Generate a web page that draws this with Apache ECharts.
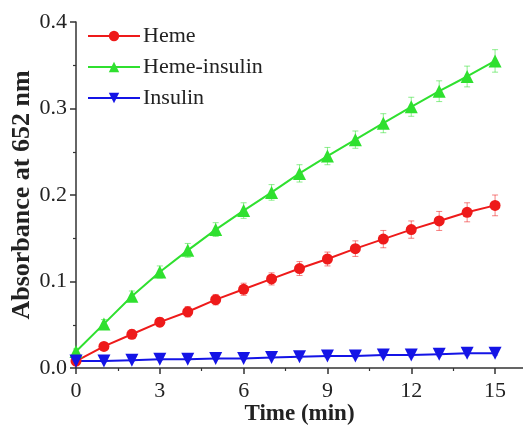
<!DOCTYPE html>
<html>
<head>
<meta charset="utf-8">
<script src="https://cdn.jsdelivr.net/npm/echarts@6/dist/echarts.min.js"></script>
<style>
  html, body { margin: 0; padding: 0; background: #fff; }
  #chart { width: 523px; height: 426px; }
</style>
</head>
<body>
<div id="chart"></div>
<script>
// Time points (min)
const times = [0, 1, 2, 3, 4, 5, 6, 7, 8, 9, 10, 11, 12, 13, 14, 15];

// Absorbance values
const heme = [0.008, 0.025, 0.039, 0.053, 0.065, 0.079, 0.091, 0.103, 0.115, 0.126, 0.138, 0.149, 0.160, 0.170, 0.180, 0.188];
const hemeInsulin = [0.019, 0.051, 0.083, 0.111, 0.136, 0.160, 0.182, 0.203, 0.225, 0.245, 0.264, 0.283, 0.302, 0.320, 0.337, 0.355];
const insulin = [0.008, 0.008, 0.009, 0.010, 0.010, 0.011, 0.011, 0.012, 0.013, 0.014, 0.014, 0.015, 0.015, 0.016, 0.017, 0.017];

// Error bar half-heights
const hemeErr = [0.002, 0.004, 0.005, 0.005, 0.006, 0.006, 0.007, 0.007, 0.008, 0.008, 0.009, 0.010, 0.010, 0.011, 0.011, 0.012];
const hemeInsulinErr = [0.003, 0.005, 0.006, 0.007, 0.008, 0.008, 0.009, 0.009, 0.010, 0.010, 0.010, 0.011, 0.011, 0.012, 0.012, 0.013];
const insulinErr = [0.001, 0.001, 0.001, 0.001, 0.001, 0.001, 0.001, 0.001, 0.002, 0.002, 0.002, 0.002, 0.002, 0.002, 0.002, 0.002];

// Axis ticks
const xTicks = [0, 3, 6, 9, 12, 15];
const xMinorTicks = [1.5, 4.5, 7.5, 10.5, 13.5];

const RED = "#ee1a1a";
const GREEN = "#2fe02f";
const BLUE = "#1414e6";
const FONT = "Liberation Serif";

function pairs(ys) {
  return times.map((t, i) => [t, ys[i]]);
}

function errData(ys, errs) {
  return times.map((t, i) => [t, ys[i], errs[i]]);
}

// Draw vertical error bars with small caps
function errorSeries(name, ys, errs, color) {
  return {
    type: "custom",
    name: name + "-err",
    z: 1,
    silent: true,
    data: errData(ys, errs),
    encode: { x: 0, y: 1 },
    renderItem: function(params, api) {
      const x = api.value(0);
      const y = api.value(1);
      const e = api.value(2);
      const top = api.coord([x, y + e]);
      const bot = api.coord([x, y - e]);
      const cap = 3;
      const style = { stroke: color, lineWidth: 1, opacity: 0.55 };
      return {
        type: "group",
        children: [
          { type: "line", shape: { x1: top[0], y1: top[1], x2: bot[0], y2: bot[1] }, style: style },
          { type: "line", shape: { x1: top[0] - cap, y1: top[1], x2: top[0] + cap, y2: top[1] }, style: style },
          { type: "line", shape: { x1: bot[0] - cap, y1: bot[1], x2: bot[0] + cap, y2: bot[1] }, style: style }
        ]
      };
    }
  };
}

function lineSeries(name, ys, color, symbol, size, rotate) {
  return {
    type: "line",
    name: name,
    z: 3,
    data: pairs(ys),
    symbol: symbol,
    symbolSize: size,
    symbolRotate: rotate || 0,
    lineStyle: { color: color, width: 2 },
    itemStyle: { color: color },
    animation: false
  };
}

const chart = echarts.init(document.getElementById("chart"), null, { renderer: "canvas" });

const axisLine = { show: true, lineStyle: { color: "#333", width: 1.5 } };

chart.setOption({
  animation: false,
  backgroundColor: "#fff",
  // outerBoundsMode none: keep the grid exactly where the reference puts it
  grid: { left: 76, right: 0, top: 22, bottom: 58, containLabel: false, outerBoundsMode: "none" },
  legend: {
    orient: "vertical",
    left: 82,
    top: 20,
    itemWidth: 52,
    itemHeight: 13,
    itemGap: 9,
    data: ["Heme", "Heme-insulin", "Insulin"],
    textStyle: { fontFamily: FONT, fontSize: 22, color: "#222", padding: [0, 0, 0, -2] }
  },
  xAxis: [
    {
      type: "value",
      min: 0,
      max: 16,
      interval: 3,
      position: "bottom",
      name: "Time (min)",
      nameLocation: "middle",
      nameGap: 35,
      nameMoveOverlap: false,
      nameTextStyle: { fontFamily: FONT, fontSize: 23, fontWeight: "bold", color: "#222" },
      axisLine: axisLine,
      axisTick: { show: true, inside: false, length: 6, lineStyle: { color: "#333", width: 1.5 }, customValues: xTicks },
      axisLabel: { fontFamily: FONT, fontSize: 22, color: "#222", margin: 12, customValues: xTicks },
      splitLine: { show: false }
    },
    {
      // minor ticks only
      type: "value",
      min: 0,
      max: 16,
      position: "bottom",
      axisLine: { show: false },
      axisTick: { show: true, inside: false, length: 3, lineStyle: { color: "#333", width: 1.2 }, customValues: xMinorTicks },
      axisLabel: { show: false },
      splitLine: { show: false }
    }
  ],
  yAxis: {
    type: "value",
    min: 0,
    max: 0.4,
    interval: 0.1,
    name: "Absorbance at 652 nm",
    nameLocation: "middle",
    nameGap: 41,
    nameMoveOverlap: false,
    nameTextStyle: { fontFamily: FONT, fontSize: 26, fontWeight: "bold", color: "#222" },
    axisLine: axisLine,
    axisTick: { show: true, inside: false, length: 6, lineStyle: { color: "#333", width: 1.5 } },
    minorTick: { show: true, splitNumber: 2, length: 3, lineStyle: { color: "#333", width: 1.2 } },
    axisLabel: {
      fontFamily: FONT,
      fontSize: 22,
      color: "#222",
      margin: 9,
      formatter: v => v.toFixed(1)
    },
    splitLine: { show: false },
    minorSplitLine: { show: false }
  },
  series: [
    errorSeries("Heme", heme, hemeErr, RED),
    errorSeries("Heme-insulin", hemeInsulin, hemeInsulinErr, GREEN),
    errorSeries("Insulin", insulin, insulinErr, BLUE),
    lineSeries("Heme", heme, RED, "circle", 11),
    lineSeries("Heme-insulin", hemeInsulin, GREEN, "triangle", 13),
    lineSeries("Insulin", insulin, BLUE, "triangle", 13, 180)
  ]
});
</script>
</body>
</html>
